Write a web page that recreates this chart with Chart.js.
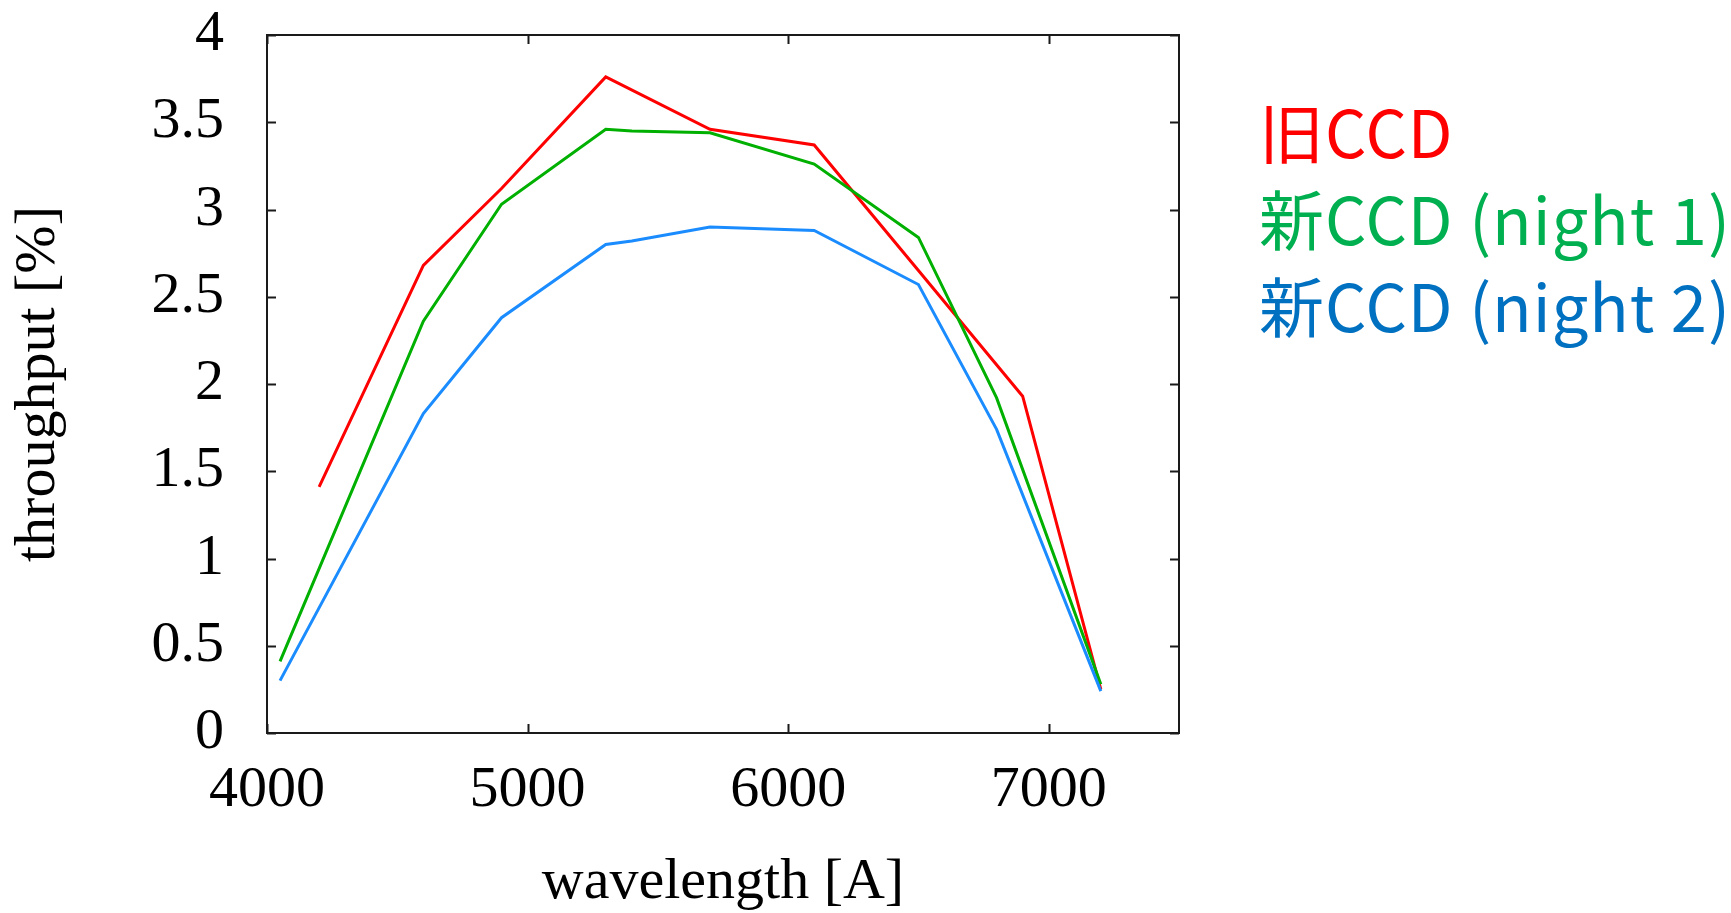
<!DOCTYPE html>
<html>
<head>
<meta charset="utf-8">
<script src="https://cdn.jsdelivr.net/npm/chart.js@4.4.1/dist/chart.umd.min.js"></script>
<style>
  html, body { margin: 0; padding: 0; background: #fff; }
  #wrap { position: relative; width: 1731px; height: 913px; }
  .key {
    position: absolute;
    left: 1259px;
    font-family: "Noto Sans CJK JP", "Noto Sans", sans-serif;
    font-size: 65px;
    line-height: 65px;
    letter-spacing: 1px;
    white-space: nowrap;
  }
</style>
</head>
<body>
<div id="wrap">
  <canvas id="throughputChart" width="1731" height="913"></canvas>
</div>
<script>
// series names and colours (shown as the coloured text key on the right)
const seriesLabels = ['旧CCD', '新CCD (night 1)', '新CCD (night 2)'];
const seriesColors = ['#ff0000', '#00b000', '#1a8cff'];
const keyColors = ['#ff0000', '#00b050', '#0070c0'];

// old CCD
const oldWave = [4200, 4600, 4900, 5300, 5700, 6100, 6500, 6900, 7200];
const oldThru = [1.41, 2.68, 3.12, 3.76, 3.46, 3.37, 2.65, 1.93, 0.25];

// new CCD, night 1
const night1Wave = [4050, 4600, 4900, 5300, 5400, 5700, 6100, 6500, 6800, 7200];
const night1Thru = [0.41, 2.36, 3.03, 3.46, 3.45, 3.44, 3.26, 2.84, 1.92, 0.28];

// new CCD, night 2
const night2Wave = [4050, 4600, 4900, 5300, 5400, 5700, 6100, 6500, 6800, 7200];
const night2Thru = [0.30, 1.83, 2.38, 2.80, 2.82, 2.90, 2.88, 2.57, 1.74, 0.24];

const xTicks = [4000, 5000, 6000, 7000];
const yTicks = [0, 0.5, 1, 1.5, 2, 2.5, 3, 3.5, 4];

const toPoints = (xs, ys) => xs.map((x, i) => ({ x: x, y: ys[i] }));

// gnuplot style box with ticks pointing inwards on all four sides
const frameAndTicks = {
  id: 'frameAndTicks',
  afterDatasetsDraw(chart) {
    const { ctx, chartArea: a, scales: { x, y } } = chart;
    const len = 9;
    ctx.save();
    ctx.strokeStyle = '#1a1a1a';
    ctx.lineWidth = 2;
    ctx.strokeRect(a.left, a.top, a.right - a.left, a.bottom - a.top);
    ctx.beginPath();
    x.ticks.forEach(t => {
      const px = Math.round(x.getPixelForValue(t.value)) + 0.5;
      ctx.moveTo(px, a.bottom); ctx.lineTo(px, a.bottom - len);
      ctx.moveTo(px, a.top); ctx.lineTo(px, a.top + len);
    });
    y.ticks.forEach(t => {
      const py = Math.round(y.getPixelForValue(t.value)) + 0.5;
      ctx.moveTo(a.left, py); ctx.lineTo(a.left + len, py);
      ctx.moveTo(a.right, py); ctx.lineTo(a.right - len, py);
    });
    ctx.stroke();
    ctx.restore();
  }
};

const serif = { family: '"Liberation Serif", "DejaVu Serif", serif', size: 58, lineHeight: 1 };

const ctx = document.getElementById('throughputChart').getContext('2d');
const chart = new Chart(ctx, {
  type: 'line',
  data: {
    datasets: [
      { label: seriesLabels[0], data: toPoints(oldWave, oldThru), borderColor: seriesColors[0], order: 3 },
      { label: seriesLabels[1], data: toPoints(night1Wave, night1Thru), borderColor: seriesColors[1], order: 2 },
      { label: seriesLabels[2], data: toPoints(night2Wave, night2Thru), borderColor: seriesColors[2], order: 1 }
    ]
  },
  options: {
    responsive: false,
    animation: false,
    devicePixelRatio: 1,
    layout: { padding: { top: 35, right: 552, bottom: 0, left: 0 } },
    elements: {
      line: { borderWidth: 3, tension: 0, fill: false },
      point: { radius: 0 }
    },
    plugins: {
      legend: { display: false },
      tooltip: { enabled: false }
    },
    scales: {
      x: {
        type: 'linear',
        min: 4000,
        max: 7500,
        afterFit: s => { s.height = 180; s.paddingLeft = 0; s.paddingRight = 0; },
        afterBuildTicks: s => { s.ticks = xTicks.map(v => ({ value: v })); },
        grid: { display: false, drawTicks: false },
        border: { display: false },
        ticks: { color: '#000', font: serif, padding: 29, maxRotation: 0, callback: v => String(v) },
        title: { display: true, text: 'wavelength [A]', color: '#000', font: serif, padding: { top: 0, bottom: 1 } }
      },
      y: {
        type: 'linear',
        min: 0,
        max: 4,
        afterFit: s => { s.width = 267; s.paddingTop = 0; s.paddingBottom = 0; },
        afterBuildTicks: s => { s.ticks = yTicks.map(v => ({ value: v })); },
        grid: { display: false, drawTicks: false },
        border: { display: false },
        ticks: { color: '#000', font: serif, padding: 43, callback: v => String(v) },
        title: { display: true, text: 'throughput [%]', color: '#000', font: serif, padding: { top: 10, bottom: 0 } }
      }
    }
  },
  plugins: [frameAndTicks]
});

// coloured text key, one line per series
const wrap = document.getElementById('wrap');
const keyTops = [98, 185, 272];
seriesLabels.forEach((label, i) => {
  const d = document.createElement('div');
  d.className = 'key';
  d.style.top = keyTops[i] + 'px';
  d.style.color = keyColors[i];
  d.textContent = label;
  wrap.appendChild(d);
});
</script>
</body>
</html>
